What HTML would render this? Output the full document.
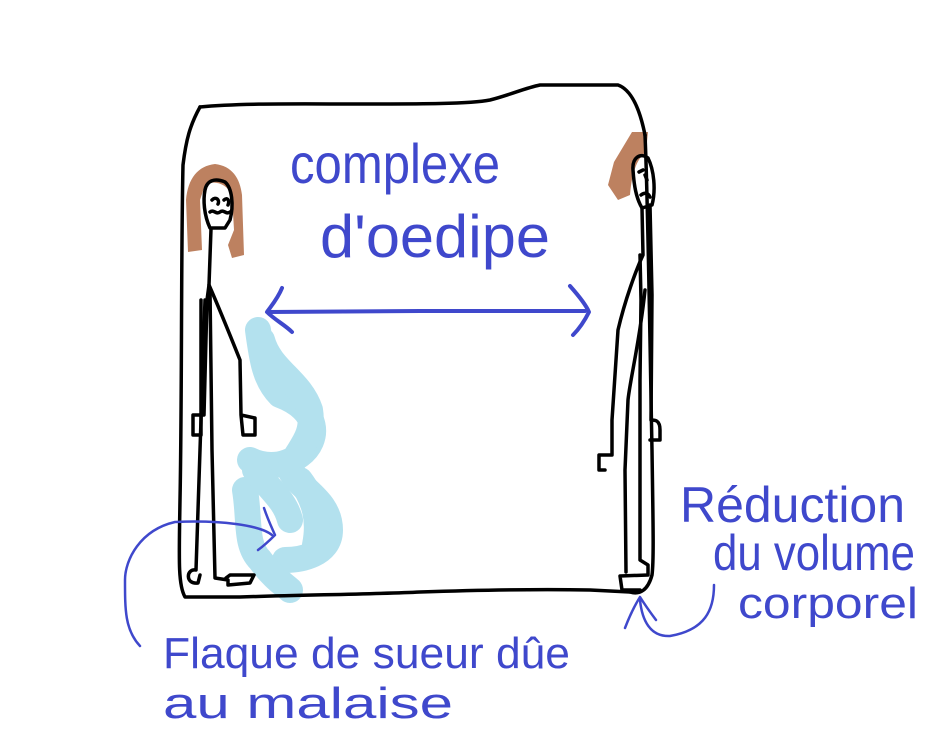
<!DOCTYPE html>
<html><head><meta charset="utf-8"><style>
html,body{margin:0;padding:0;background:#fff;}
svg{display:block;}
.t{font-family:"Liberation Sans",sans-serif;fill:#3f48cc;}
</style></head><body>
<svg width="930" height="742" viewBox="0 0 930 742" xmlns="http://www.w3.org/2000/svg">
<g fill="none" stroke-linecap="round" stroke-linejoin="round">
<!-- sweat puddle -->
<g stroke="#a6dcec" stroke-width="26" opacity="0.85">
<path d="M258 330 C262 360 265 380 280 395 C320 410 320 440 300 455 C280 470 260 465 250 460"/>
<path d="M262 340 C270 370 300 380 310 410 C315 440 295 450 290 470 C300 490 330 500 330 530 C330 555 300 560 285 560"/>
<path d="M245 490 C250 520 245 545 260 560 C275 580 285 585 290 590"/>
<path d="M255 470 C270 490 285 500 290 520"/>
<path d="M300 480 C315 500 320 520 315 545"/>
</g>
<!-- hair -->
<path d="M188 252 L186 200 C188 178 198 166 215 164 C232 166 240 178 242 195 L244 255 L232 258 L228 245 L234 230 L232 195 C226 183 214 180 205 185 L200 200 L202 250 Z" fill="#b97a57" opacity="0.95"/>
<path d="M632 132 L648 132 L646 152 C638 158 632 170 630 195 L618 200 L608 185 L614 162 Z" fill="#b97a57" opacity="0.95"/>
<!-- box -->
<g stroke="#000" stroke-width="3.5">
<path d="M200 107 C240 103 300 104 360 104 C420 104 470 104 490 100 C510 95 525 88 540 85 L618 85 C632 90 640 110 645 135"/>
<path d="M200 107 C190 125 186 140 183 165 C181 250 182 400 180 500 C179 560 178 585 185 597 L240 597 C300 595 380 594 420 592 C480 590 540 589 590 590 L630 592"/>
<path d="M645 135 C648 200 650 350 652 450 C653 520 654 560 652 575 C648 590 640 595 630 592"/>
</g>
<!-- left figure -->
<g stroke="#000" stroke-width="3.5">
<path d="M205 190 C207 180 215 178 225 182 C232 188 234 205 230 220 L225 228 L210 228 C204 215 203 200 205 190 Z"/>
<path d="M212 200 c4 -4 8 0 6 4 M224 200 c3 -3 6 0 4 5 M210 212 c4 -3 6 3 10 0 c4 -3 6 3 10 0"/>
<path d="M211 229 L209 285 L207 300 L204 415 L193 415 L193 435 L201 435 L201 300"/>
<path d="M209 285 C220 310 230 335 240 360 L241 415 L255 418 L255 435 L243 435 L241 415"/>
<path d="M210 290 L212 450 L215 578 L228 580 L228 585 L250 583 L254 575 L230 575 L226 578"/>
<path d="M205 300 L200 450 L196 570 C186 568 185 585 198 583 L200 575"/>
</g>
<!-- right figure -->
<g stroke="#000" stroke-width="3.5">
<path d="M633 170 C632 158 640 152 648 158 C654 170 656 190 652 205 L642 208 C636 198 634 185 633 170 Z"/>
<path d="M639 172 l4 -2 M645 175 l2 5 M641 195 c4 -3 7 -2 9 2"/>
<path d="M642 208 L643 255 C636 270 625 300 618 330 L612 420 L612 455 L599 455 L599 470 L605 470"/>
<path d="M650 205 L652 295 L651 420 C655 420 660 420 660 430 L660 440 L650 440"/>
<path d="M640 255 L641 300 L640 380 L640 560 L648 565 L648 575 L620 576 L622 590 L640 590"/>
<path d="M645 290 C640 340 630 380 628 400 L625 470 L626 572"/>
</g>
<!-- blue arrows -->
<g stroke="#3f48cc" stroke-width="4">
<path d="M268 312 L420 311 L585 311"/>
<path d="M282 288 C278 298 272 305 267 312 C275 320 285 325 292 332"/>
<path d="M570 286 C578 295 586 305 589 312 C585 320 580 328 573 335"/>
</g>
<g stroke="#3f48cc" stroke-width="2.5">
<path d="M140 646 C125 630 125 610 125 580 C125 560 140 530 175 522 C220 520 260 525 272 535"/>
<path d="M264 508 C268 520 272 528 275 535 C270 540 265 545 258 550"/>
<path d="M714 585 C714 610 705 630 670 636 C650 637 642 620 640 600"/>
<path d="M625 628 C630 615 635 605 640 597 C645 605 650 612 656 620"/>
</g>
</g>
<text class="t" x="290" y="183" font-size="56" textLength="210" lengthAdjust="spacingAndGlyphs">complexe</text>
<text class="t" x="320" y="257" font-size="60" textLength="230" lengthAdjust="spacingAndGlyphs">d'oedipe</text>
<text class="t" x="680" y="522" font-size="50" textLength="225" lengthAdjust="spacingAndGlyphs">Réduction</text>
<text class="t" x="713" y="570" font-size="50" textLength="202" lengthAdjust="spacingAndGlyphs">du volume</text>
<text class="t" x="738" y="618" font-size="44" textLength="180" lengthAdjust="spacingAndGlyphs">corporel</text>
<text class="t" x="163" y="668" font-size="44" textLength="407" lengthAdjust="spacingAndGlyphs">Flaque de sueur dûe</text>
<text class="t" x="163" y="718" font-size="44" textLength="290" lengthAdjust="spacingAndGlyphs">au  malaise</text>
</svg>
</body></html>
